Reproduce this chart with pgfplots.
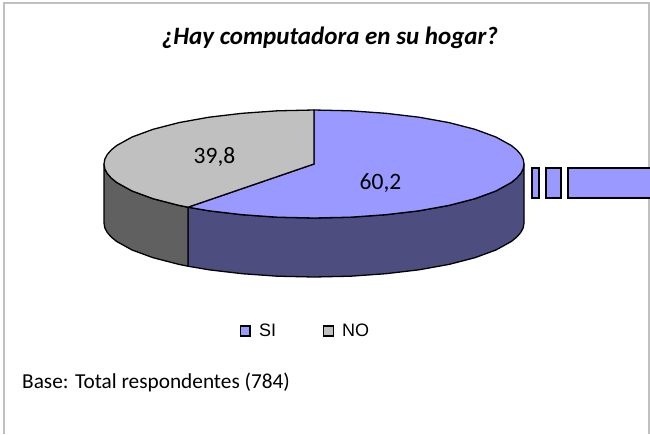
\documentclass[border=0pt]{standalone}
\usepackage{fontspec}
\setmainfont{Carlito}
\newfontfamily\arialf{Liberation Sans}
\usepackage{pgfplots}
\pgfplotsset{compat=1.18}
\definecolor{piaBlue}{HTML}{9999FF}
\definecolor{piaBlueD}{HTML}{4D4D80}
\definecolor{piaGray}{HTML}{C0C0C0}
\definecolor{piaGrayD}{HTML}{606060}
\begin{document}
\begin{tikzpicture}
\begin{axis}[
  scale only axis, width=650pt, height=434pt,
  xmin=0, xmax=650, ymin=0, ymax=434, y dir=reverse,
  hide axis, clip=true,
  legend style={at={(axis cs:305.5,331)}, anchor=center, draw=none, fill=none,
    legend columns=2, font=\arialf\fontsize{18}{20}\selectfont,
    /tikz/every even column/.append style={column sep=45pt},
    inner sep=0pt, cells={anchor=west}},
  legend image code/.code={\path[draw=none,fill=none] (0pt,0pt) rectangle (16.6pt,0pt);\draw[#1, line width=1.2pt, draw=black] (0pt,-5pt) rectangle (9.6pt,5pt);},
]
% card border
\addplot[forget plot, color=piaGray, line width=2.4pt] coordinates {(4.2,434) (4.2,3) (649,3) (649,434)};
% side walls
\addplot[forget plot, fill=piaBlueD, draw=black, line width=1.3pt] coordinates {
 (524,164)(523.2,168.7)(520.8,173.4)(516.8,178)(511.3,182.5)(495.9,191)(474.9,198.7)(449,205.4)(419,210.8)(385.8,214.7)(350.5,217.2)(314,218)(277.5,217.2)(242.2,214.7)(209,210.8)(188,207.2)
 (188,266.2)(209,269.8)(242.2,273.7)(277.5,276.2)(314,277)(350.5,276.2)(385.8,273.7)(419,269.8)(449,264.4)(474.9,257.7)(495.9,250)(511.3,241.5)(516.8,237)(520.8,232.4)(523.2,227.7)(524,223)
} --cycle;
\addplot[forget plot, fill=piaGrayD, draw=black, line width=1.3pt] coordinates {
 (188,207.2)(179,205.4)(153.1,198.7)(132.1,191)(116.7,182.5)(111.2,178)(107.2,173.4)(104.8,168.7)(104,164)
 (104,223)(104.8,227.7)(107.2,232.4)(111.2,237)(116.7,241.5)(132.1,250)(153.1,257.7)(179,264.4)(188,266.2)
} --cycle;
% top faces
\addplot[fill=piaBlue, draw=black, line width=1.3pt] coordinates {
 (314,164)(314,110)(350.5,110.8)(385.8,113.3)(419,117.2)(449,122.6)(474.9,129.3)(495.9,137)(511.3,145.5)(516.8,150)(520.8,154.6)(523.2,159.3)(524,164)
 (523.2,168.7)(520.8,173.4)(516.8,178)(511.3,182.5)(495.9,191)(474.9,198.7)(449,205.4)(419,210.8)(385.8,214.7)(350.5,217.2)(314,218)(277.5,217.2)(242.2,214.7)(209,210.8)(188,207.2)
} --cycle;
\addplot[fill=piaGray, draw=black, line width=1.3pt] coordinates {
 (314,164)(188,207.2)(179,205.4)(153.1,198.7)(132.1,191)(116.7,182.5)(111.2,178)(107.2,173.4)(104.8,168.7)(104,164)
 (104.8,159.3)(107.2,154.6)(111.2,150)(116.7,145.5)(132.1,137)(153.1,129.3)(179,122.6)(209,117.2)(242.2,113.3)(277.5,110.8)(314,110)
} --cycle;
% exploded slice fragments at the right edge
\addplot[forget plot, fill=piaBlue, draw=black, line width=2pt] coordinates {(531.7,168)(539.3,168)(539.3,198)(531.7,198)} --cycle;
\addplot[forget plot, fill=piaBlue, draw=black, line width=2pt] coordinates {(546.3,168)(560.5,168)(560.5,198)(546.3,198)} --cycle;
\addplot[forget plot, fill=piaBlue, draw=black, line width=2pt] coordinates {(651,168)(567.7,168)(567.7,198)(651,198)};
\legend{SI,NO}
\node[font=\bfseries\itshape\fontsize{25}{30}\selectfont] at (axis cs:330,38) {¿Hay computadora en su hogar?};
\node[font=\fontsize{23.5}{28}\selectfont] at (axis cs:214.5,157) {39,8};
\node[font=\fontsize{23.5}{28}\selectfont] at (axis cs:380.5,183) {60,2};
\node[font=\fontsize{21.3}{25}\selectfont, anchor=west, inner sep=0pt] at (axis cs:22,382.5) {Base: Total respondentes (784)};
\end{axis}
\path (current axis.south west) rectangle (current axis.north east);
\end{tikzpicture}
\end{document}
